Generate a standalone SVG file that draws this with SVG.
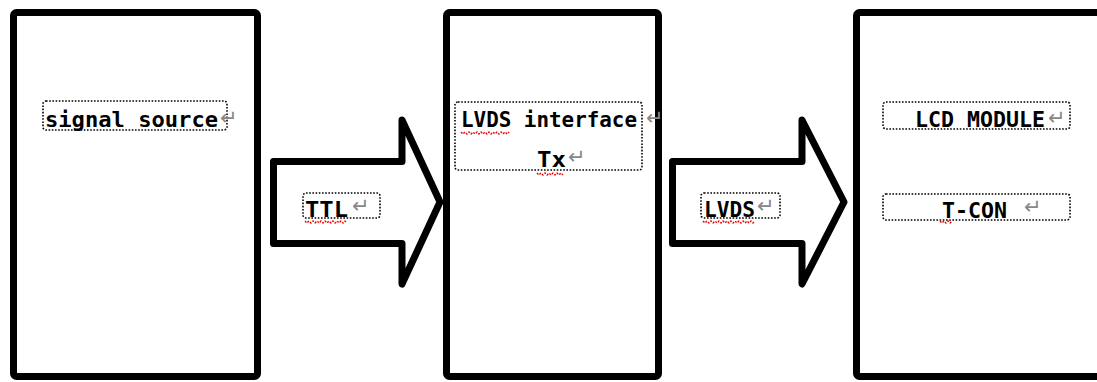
<svg xmlns="http://www.w3.org/2000/svg" width="1097" height="382" viewBox="0 0 1097 382">
  <style>
    .block { fill: #fff; stroke: #000; stroke-width: 7; stroke-linejoin: round; }
    .frame { fill: none; stroke: #000; stroke-width: 1.6; stroke-dasharray: 1.6 1.6; }
    .lbl { font-family: "DejaVu Sans Mono", "Liberation Mono", monospace; font-weight: bold; font-size: 22px; fill: #000; }
    .mark { font-family: "DejaVu Sans", sans-serif; font-size: 21px; fill: #888; }
    .squiggle { fill: none; stroke: #e00; stroke-width: 1.4; stroke-dasharray: 2 1.5; }
  </style>
  <rect width="1097" height="382" fill="#fff"/>

  <!-- source block -->
  <g id="signal-source">
    <rect class="block" x="13.5" y="12.5" width="244" height="364" rx="3"/>
    <rect class="frame" x="43" y="101" width="184" height="29" rx="3"/>
    <text class="lbl" x="45" y="127" textLength="173" lengthAdjust="spacingAndGlyphs">signal source</text>
    <text class="mark" x="220" y="125">↵</text>
  </g>

  <!-- transmitter block -->
  <g id="lvds-tx">
    <rect class="block" x="446.5" y="12.5" width="212" height="364" rx="3"/>
    <rect class="frame" x="455" y="102" width="187" height="68" rx="3"/>
    <text class="lbl" x="461" y="127" textLength="176" lengthAdjust="spacingAndGlyphs">LVDS interface</text>
    <text class="mark" x="646" y="125">↵</text>
    <path class="squiggle" d="M461 132 l2 2 l2 -2 l2 2 l2 -2 l2 2 l2 -2 l2 2 l2 -2 l2 2 l2 -2 l2 2 l2 -2 l2 2 l2 -2 l2 2 l2 -2 l2 2 l2 -2 l2 2 l2 -2 l2 2 l2 -2 l2 2 l2 -2"/>
    <text class="lbl" x="537" y="167" textLength="29" lengthAdjust="spacingAndGlyphs">Tx</text>
    <text class="mark" x="568" y="164">↵</text>
    <path class="squiggle" d="M537 173 l2 2 l2 -2 l2 2 l2 -2 l2 2 l2 -2 l2 2 l2 -2 l2 2 l2 -2 l2 2 l2 -2 l2 2"/>
  </g>

  <!-- display block -->
  <g id="lcd-module">
    <rect class="block" x="856.5" y="12.5" width="260" height="364" rx="3"/>
    <rect class="frame" x="883" y="102" width="187" height="27" rx="3"/>
    <text class="lbl" x="915" y="127" textLength="130" lengthAdjust="spacingAndGlyphs">LCD MODULE</text>
    <text class="mark" x="1048" y="125">↵</text>
    <rect class="frame" x="883" y="194" width="187" height="26" rx="3"/>
    <text class="lbl" x="942" y="218" textLength="65" lengthAdjust="spacingAndGlyphs">T-CON</text>
    <text class="mark" x="1024" y="214">↵</text>
    <path class="squiggle" d="M940 221 l2 2 l2 -2 l2 2 l2 -2 l2 2 l2 -2"/>
  </g>

  <!-- block arrows between stages -->
  <g id="connectors">
    <g id="ttl-link">
      <path class="block" d="M273.5 161.5 H402 V120 L440 202 L402 284 V243.5 H273.5 Z"/>
      <rect class="frame" x="303" y="193" width="77" height="25" rx="3"/>
      <text class="lbl" x="305" y="217" textLength="43" lengthAdjust="spacingAndGlyphs">TTL</text>
      <text class="mark" x="352" y="213">↵</text>
      <path class="squiggle" d="M305 221 l2 2 l2 -2 l2 2 l2 -2 l2 2 l2 -2 l2 2 l2 -2 l2 2 l2 -2 l2 2 l2 -2 l2 2 l2 -2 l2 2 l2 -2 l2 2 l2 -2 l2 2 l2 -2 l2 2"/>
    </g>
    <g id="lvds-link">
      <path class="block" d="M672.5 161.5 H802 V120 L844 202 L802 284 V243.5 H672.5 Z"/>
      <rect class="frame" x="701" y="193" width="79" height="25" rx="3"/>
      <text class="lbl" x="704" y="217" textLength="51" lengthAdjust="spacingAndGlyphs">LVDS</text>
      <text class="mark" x="757" y="213">↵</text>
      <path class="squiggle" d="M703 221 l2 2 l2 -2 l2 2 l2 -2 l2 2 l2 -2 l2 2 l2 -2 l2 2 l2 -2 l2 2 l2 -2 l2 2 l2 -2 l2 2 l2 -2 l2 2 l2 -2 l2 2 l2 -2 l2 2 l2 -2 l2 2 l2 -2 l2 2 l2 -2"/>
    </g>
  </g>
</svg>
